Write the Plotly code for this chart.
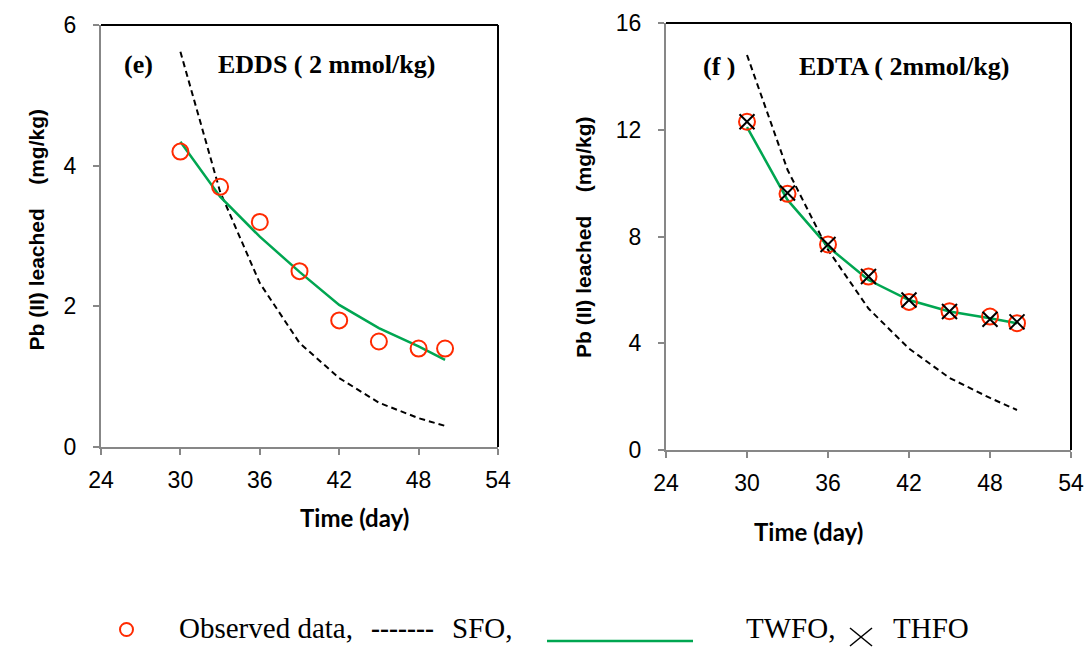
import plotly.graph_objects as go

# ---- data ----
days = [30, 33, 36, 39, 42, 45, 48, 50]

edds_obs = [4.2, 3.7, 3.2, 2.5, 1.8, 1.5, 1.4, 1.4]
edds_sfo = [5.62, 3.63, 2.33, 1.48, 0.98, 0.63, 0.41, 0.30]
edds_twfo = [4.34, 3.56, 2.99, 2.49, 2.02, 1.69, 1.43, 1.24]

edta_obs = [12.3, 9.6, 7.7, 6.5, 5.55, 5.2, 5.0, 4.75]
edta_sfo = [14.8, 10.5, 7.5, 5.3, 3.8, 2.7, 1.95, 1.5]
edta_twfo = [12.1, 9.37, 7.62, 6.37, 5.62, 5.19, 4.94, 4.75]
edta_thfo = [12.3, 9.63, 7.7, 6.5, 5.62, 5.19, 4.9, 4.8]

x_ticks = [24, 30, 36, 42, 48, 54]
y_ticks_e = [0, 2, 4, 6]
y_ticks_f = [0, 4, 8, 12, 16]

RED = "#ff2a00"
GREEN = "#00a651"
AXIS_GRAY = "#878787"

fig = go.Figure()

def add_panel(xa, ya, sfo, twfo, obs, thfo=None):
    fig.add_trace(go.Scatter(x=days, y=sfo, mode="lines", xaxis=xa, yaxis=ya,
                             line=dict(color="black", width=2, dash="6px,4px"),
                             showlegend=False))
    fig.add_trace(go.Scatter(x=days, y=twfo, mode="lines", xaxis=xa, yaxis=ya,
                             line=dict(color=GREEN, width=2.5), showlegend=False))
    fig.add_trace(go.Scatter(x=days, y=obs, mode="markers", xaxis=xa, yaxis=ya,
                             marker=dict(symbol="circle-open", size=16,
                                         line=dict(color=RED, width=2), color=RED),
                             showlegend=False))
    if thfo is not None:
        fig.add_trace(go.Scatter(x=days, y=thfo, mode="markers", xaxis=xa, yaxis=ya,
                                 marker=dict(symbol="x-thin-open", size=15,
                                             line=dict(color="black", width=2), color="black"),
                                 showlegend=False))

add_panel("x", "y", edds_sfo, edds_twfo, edds_obs)
add_panel("x2", "y2", edta_sfo, edta_twfo, edta_obs, edta_thfo)

W, H = 1088, 647
def px(x):
    return x / W
def py(y):
    return 1 - y / H

dom_e_x = [px(101), px(498)]
dom_e_y = [py(447), py(25)]
dom_f_x = [px(666), px(1071)]
dom_f_y = [py(450), py(23)]

tickfont = dict(family="Liberation Sans, Arial, sans-serif", size=23, color="black")
common_x = dict(range=[24, 54], tickvals=x_ticks, showgrid=False, zeroline=False,
                showline=True, linecolor=AXIS_GRAY, linewidth=2, ticks="outside",
                ticklen=6, tickwidth=2, tickcolor=AXIS_GRAY, tickfont=tickfont,
                automargin=False, ticklabelstandoff=5)
common_y = dict(showgrid=False, zeroline=False, showline=True, linecolor=AXIS_GRAY,
                linewidth=2, ticks="outside", ticklen=6, tickwidth=2,
                tickcolor=AXIS_GRAY, tickfont=tickfont, automargin=False,
                ticklabelstandoff=12)

fig.update_layout(
    template="none",
    width=W, height=H,
    margin=dict(l=0, r=0, t=0, b=0, autoexpand=False),
    paper_bgcolor="white", plot_bgcolor="white",
    xaxis=dict(domain=dom_e_x, anchor="y", **common_x),
    yaxis=dict(domain=dom_e_y, anchor="x", range=[0, 6], tickvals=y_ticks_e, **common_y),
    xaxis2=dict(domain=dom_f_x, anchor="y2", **common_x),
    yaxis2=dict(domain=dom_f_y, anchor="x2", range=[0, 16], tickvals=y_ticks_f, **common_y),
)

# black top/right borders
for (xd, yd) in [(dom_e_x, dom_e_y), (dom_f_x, dom_f_y)]:
    fig.add_shape(type="line", xref="paper", yref="paper", x0=xd[0], x1=xd[1], y0=yd[1], y1=yd[1],
                  line=dict(color="black", width=2))
    fig.add_shape(type="line", xref="paper", yref="paper", x0=xd[1], x1=xd[1], y0=yd[0], y1=yd[1],
                  line=dict(color="black", width=2))

serif_b = dict(family="Liberation Serif, Times New Roman, serif", size=26, color="black")
ann = []
ann.append(dict(x=px(122), y=py(65), text="<b>(e)</b>", font=serif_b, xanchor="left"))
ann.append(dict(x=px(216), y=py(65), text="<b>EDDS ( 2 mmol/kg)</b>", font=serif_b, xanchor="left"))
ann.append(dict(x=px(701), y=py(66), text="<b>(f )</b>", font=serif_b, xanchor="left"))
ann.append(dict(x=px(797), y=py(66), text="<b>EDTA ( 2mmol/kg)</b>", font=serif_b, xanchor="left"))

ytitle_font = dict(family="Liberation Sans, Arial, sans-serif", size=21, color="black")
ytitle = "<b>Pb (II) leached    (mg/kg)</b>"
ann.append(dict(x=px(22), y=py(230), text=ytitle, font=ytitle_font, textangle=-90))
ann.append(dict(x=px(583), y=py(237), text=ytitle, font=ytitle_font, textangle=-90))

xtitle_font = dict(family="Lato, Open Sans, sans-serif", size=24, color="black")
ann.append(dict(x=px(298), y=py(517), text="<b>Time (day)</b>", font=xtitle_font))
ann.append(dict(x=px(865), y=py(531), text="<b>Time (day)</b>", font=xtitle_font))

# bottom legend
leg_font = dict(family="Liberation Serif, Times New Roman, serif", size=29, color="black")
ly = py(628)
ann.append(dict(x=px(177), y=ly, text="Observed data,", font=leg_font, xanchor="left"))
ann.append(dict(x=px(369), y=ly, text="<b>-------</b>",
                font=dict(family="Liberation Serif, serif", size=27, color="black"), xanchor="left"))
ann.append(dict(x=px(450), y=ly, text="SFO,", font=leg_font, xanchor="left"))
ann.append(dict(x=px(744), y=ly, text="TWFO,", font=leg_font, xanchor="left"))
ann.append(dict(x=px(891), y=ly, text="THFO", font=leg_font, xanchor="left"))

for a in ann:
    a.update(xref="paper", yref="paper", showarrow=False, yanchor="middle")
    fig.add_annotation(**a)

# legend symbols
fig.add_shape(type="circle", xref="paper", yref="paper",
              x0=px(120), x1=px(133), y0=py(636), y1=py(623),
              line=dict(color=RED, width=2))
fig.add_shape(type="line", xref="paper", yref="paper", x0=px(547), x1=px(693),
              y0=py(641), y1=py(641), line=dict(color=GREEN, width=2.5))
fig.add_shape(type="line", xref="paper", yref="paper", x0=px(850), x1=px(872),
              y0=py(628), y1=py(646), line=dict(color="black", width=1.5))
fig.add_shape(type="line", xref="paper", yref="paper", x0=px(850), x1=px(872),
              y0=py(646), y1=py(628), line=dict(color="black", width=1.5))

fig.write_html("out.html")
